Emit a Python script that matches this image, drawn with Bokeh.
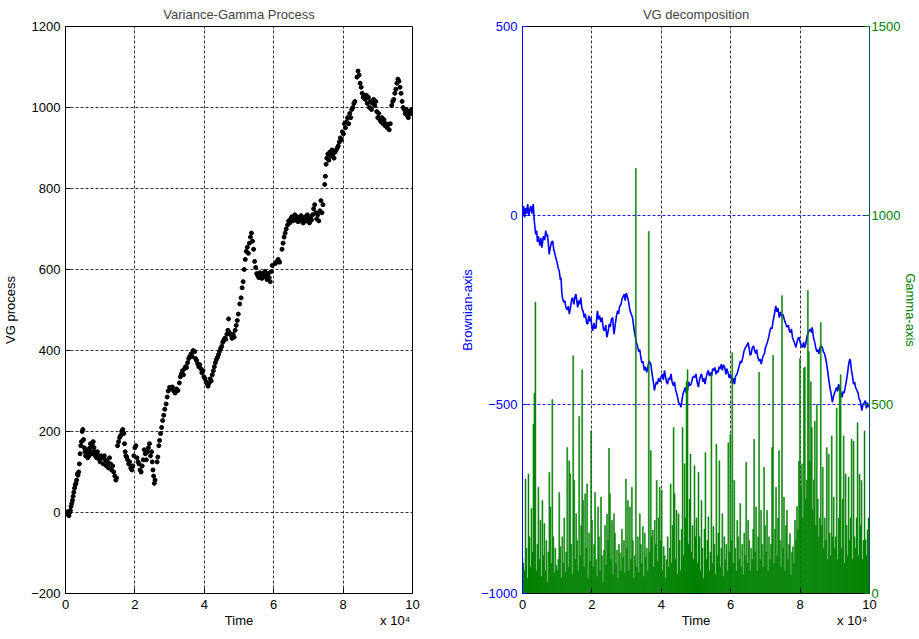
import numpy as np
from bokeh.plotting import figure
from bokeh.models import Range1d, LinearAxis, FixedTicker
from bokeh.layouts import row
from bokeh.embed import file_html
from bokeh.resources import INLINE

FONT = "Liberation Sans"

# ---------------- data ----------------
x_ticks = [0, 20000, 40000, 60000, 80000, 100000]
x_tick_labels = ["0", "2", "4", "6", "8", "10"]
vg_ticks = [-200, 0, 200, 400, 600, 800, 1000, 1200]
bm_ticks = [-1000, -500, 0, 500]
gamma_ticks = [0, 500, 1000, 1500]
x_title = "Time"
x_exponent = "x 10\u2074"

# Variance-Gamma process samples (time in units of 1e4)
vg_time = [
    0.00, 0.03, 0.06, 0.08, 0.10, 0.12, 0.14, 0.16, 0.18, 0.20, 0.22, 0.24, 0.26, 0.28, 0.30,
    0.32, 0.34, 0.36, 0.38, 0.40, 0.42, 0.44, 0.46, 0.48, 0.50, 0.52, 0.54, 0.56, 0.58, 0.60,
    0.62, 0.64, 0.66, 0.68, 0.70, 0.72, 0.74, 0.76, 0.78, 0.80, 0.82, 0.84, 0.86, 0.88, 0.90,
    0.92, 0.95, 0.98, 1.00, 1.03, 1.06, 1.09, 1.12, 1.15, 1.18, 1.21, 1.24, 1.27, 1.30, 1.33,
    1.36, 1.39, 1.42, 1.45, 1.47,
    1.50, 1.53, 1.56, 1.59, 1.62, 1.65, 1.68, 1.70, 1.72, 1.74, 1.76, 1.79, 1.82, 1.85, 1.88,
    1.91, 1.94, 1.97, 2.00, 2.03, 2.06, 2.09, 2.12, 2.15, 2.18, 2.21, 2.24, 2.27, 2.30, 2.33,
    2.36, 2.39, 2.42, 2.45, 2.48, 2.50, 2.52, 2.54, 2.56, 2.58,
    2.64, 2.66, 2.69, 2.71, 2.74, 2.77, 2.80, 2.83, 2.86, 2.90, 2.93, 2.96, 3.00, 3.04, 3.08,
    3.12, 3.16, 3.20, 3.24, 3.28, 3.31, 3.34, 3.37, 3.40, 3.43, 3.46, 3.49, 3.52, 3.55, 3.58,
    3.62, 3.65, 3.68, 3.72, 3.75, 3.78, 3.81, 3.84, 3.87, 3.90, 3.93, 3.96, 3.99, 4.02, 4.05,
    4.08, 4.11, 4.14, 4.17, 4.20, 4.23, 4.26, 4.29, 4.32, 4.35, 4.38, 4.41, 4.44, 4.47, 4.50,
    4.53, 4.56, 4.59, 4.62, 4.65, 4.68, 4.70, 4.71, 4.74, 4.77, 4.80, 4.83, 4.86, 4.89, 4.92,
    4.95, 4.98, 5.02, 5.06, 5.09, 5.12, 5.15, 5.18, 5.21, 5.24, 5.27, 5.30, 5.33, 5.36, 5.39,
    5.42, 5.45, 5.48, 5.51, 5.54, 5.57, 5.60, 5.63, 5.66, 5.69, 5.72, 5.75, 5.78, 5.81, 5.84,
    5.87, 5.90, 5.93, 5.96, 6.05, 6.09, 6.13, 6.17,
    6.24, 6.27, 6.30, 6.33, 6.36, 6.40, 6.43, 6.46, 6.49, 6.52, 6.55, 6.58, 6.61, 6.64, 6.67,
    6.70, 6.73, 6.76, 6.79, 6.82, 6.85, 6.88, 6.91, 6.94, 6.97, 7.00, 7.03, 7.06, 7.09, 7.12,
    7.15, 7.18, 7.21, 7.24, 7.27, 7.30, 7.33, 7.36, 7.39, 7.42,
    7.47, 7.49, 7.51, 7.53, 7.56, 7.59, 7.62, 7.65, 7.68, 7.71, 7.74, 7.77, 7.80, 7.83, 7.86,
    7.89, 7.92, 7.95, 7.98, 8.01, 8.04, 8.07, 8.10, 8.13, 8.16, 8.19, 8.22, 8.25, 8.28, 8.31,
    8.34, 8.40, 8.43, 8.46, 8.49, 8.52, 8.55, 8.58, 8.61, 8.64, 8.67, 8.70, 8.73, 8.76, 8.79,
    8.82, 8.85, 8.88, 8.91, 8.94, 8.97, 9.00, 9.03, 9.06, 9.09, 9.12, 9.15, 9.18, 9.21, 9.24,
    9.27, 9.30, 9.33, 9.36, 9.40, 9.43, 9.46, 9.49, 9.52, 9.55, 9.58, 9.61, 9.64, 9.67, 9.70,
    9.73, 9.76, 9.79, 9.82, 9.85, 9.88, 9.91, 9.94, 9.97, 10.0,
]
vg_value = [
    0, -3, 2, -5, -8, 0, 5, 15, 22, 30, 40, 50, 60, 68, 72,
    80, 95, 92, 100, 120, 145, 165, 175, 200, 205, 180, 160, 150, 140, 155,
    145, 135, 150, 140, 160, 170, 150, 145, 165, 175, 160, 150, 140, 148, 135,
    150, 140, 130, 125, 140, 135, 120, 140, 130, 115, 125, 110, 135, 120, 105,
    115, 100, 90, 80, 85,
    165, 175, 185, 190, 200, 205, 195, 170, 150, 140, 137, 130, 120, 125, 110,
    105, 115, 140, 160, 165, 135, 125, 120, 105, 100, 115, 130, 155, 145, 130,
    150, 160, 170, 140, 150, 125, 105, 90, 72, 80,
    125, 137, 165, 178, 195, 210, 227, 240, 255, 268, 285, 300, 309, 305, 310,
    300, 295, 305, 301, 320, 335, 342, 350, 340, 355, 360, 358, 370, 380, 385,
    392, 385, 400, 397, 380, 375, 367, 360, 365, 355, 345, 350, 335, 330, 322,
    318, 312, 320, 330, 325, 340, 350, 360, 370, 378, 383, 390, 398, 405, 410,
    420, 425, 430, 428, 440, 450, 478, 445, 442, 438, 430, 440, 433, 450, 462,
    474, 490, 515, 530, 555, 570, 600, 625, 645, 655, 640, 665, 680, 690, 670,
    650, 620, 605, 590, 585, 580, 592, 585, 578, 590, 582, 595, 585, 575, 590,
    580, 570, 595, 610, 615, 620, 625, 618,
    650, 665, 680, 690, 700, 710, 720, 715, 725, 730, 720, 728, 735, 722, 730,
    718, 728, 720, 733, 725, 715, 722, 730, 720, 735, 725, 715, 728, 722, 735,
    750, 760, 740, 725, 735, 720, 745, 770, 740, 760,
    810, 830, 860, 875, 885, 870, 890, 880, 895, 885, 875, 890, 895, 900, 905,
    915, 925, 920, 940, 935, 960, 950, 965, 975, 960, 985, 975, 995, 1000, 1010,
    1015, 1075, 1090, 1080, 1060, 1050, 1035, 1025, 1030, 1020, 1030, 1010, 1025, 1000, 1015,
    995, 1010, 1020, 1005, 1015, 990, 975, 985, 970, 965, 975, 960, 970, 955, 960,
    950, 958, 945, 960, 1005, 1015, 1020, 1035, 1045, 1060, 1070, 1065, 1050, 1035, 1015,
    1000, 995, 985, 995, 980, 975, 990, 985, 995, 985,
]

# Brownian component (time in units of 1e4)
bm_time = [
    0.00, 0.03, 0.06, 0.09, 0.12, 0.15, 0.18, 0.21, 0.24, 0.27, 0.31, 0.34, 0.38, 0.41, 0.43,
    0.46, 0.50, 0.53, 0.56, 0.60, 0.64, 0.67, 0.70, 0.72, 0.75, 0.77, 0.80, 0.84, 0.87, 0.90,
    0.93, 0.96, 1.00, 1.03, 1.06, 1.09, 1.11, 1.13, 1.15, 1.19, 1.22, 1.25, 1.29, 1.32, 1.35,
    1.38, 1.41, 1.44, 1.48, 1.51, 1.54, 1.57, 1.59, 1.62, 1.65, 1.68, 1.71, 1.75, 1.78, 1.81,
    1.85, 1.88, 1.91, 1.94, 1.97, 2.00, 2.02, 2.06, 2.09, 2.12, 2.14, 2.16, 2.19, 2.22, 2.26,
    2.29, 2.33, 2.36, 2.40, 2.43, 2.45, 2.48, 2.50, 2.53, 2.56, 2.60, 2.62, 2.64, 2.67, 2.71,
    2.74, 2.77, 2.80, 2.84, 2.87, 2.90, 2.93, 2.96, 2.99, 3.03, 3.06, 3.08, 3.11, 3.14, 3.17,
    3.20, 3.22, 3.25, 3.28, 3.32, 3.35, 3.38, 3.41, 3.44, 3.47, 3.51, 3.54, 3.58, 3.61, 3.65,
    3.70, 3.72, 3.75, 3.78, 3.80, 3.83, 3.86, 3.89, 3.92, 3.96, 3.99, 4.03, 4.06, 4.09, 4.12,
    4.15, 4.18, 4.21, 4.24, 4.28, 4.31, 4.35, 4.38, 4.41, 4.44, 4.47, 4.50, 4.54, 4.57, 4.60,
    4.63, 4.66, 4.69, 4.72, 4.76, 4.79, 4.82, 4.86, 4.90, 4.93, 4.97, 5.00, 5.03, 5.07, 5.10,
    5.13, 5.16, 5.20, 5.23, 5.26, 5.30, 5.33, 5.35, 5.39, 5.42, 5.45, 5.48, 5.51, 5.54, 5.58,
    5.61, 5.64, 5.67, 5.70, 5.73, 5.76, 5.79, 5.83, 5.86, 5.89, 5.92, 5.96, 5.99, 6.02, 6.05,
    6.08, 6.11, 6.14, 6.18, 6.21, 6.24, 6.28, 6.31, 6.35, 6.38, 6.42, 6.46, 6.50, 6.53, 6.56,
    6.59, 6.62, 6.66, 6.69, 6.72, 6.75, 6.78, 6.82, 6.85, 6.88, 6.91, 6.94, 6.97, 7.00, 7.04,
    7.07, 7.10, 7.13, 7.16, 7.19, 7.22, 7.26, 7.28, 7.30, 7.33, 7.36, 7.40, 7.43, 7.46, 7.50,
    7.53, 7.56, 7.59, 7.62, 7.66, 7.69, 7.72, 7.75, 7.78, 7.81, 7.85, 7.88, 7.91, 7.94, 7.97,
    8.00, 8.04, 8.07, 8.10, 8.13, 8.16, 8.20, 8.23, 8.26, 8.30, 8.33, 8.35, 8.38, 8.42, 8.45,
    8.48, 8.51, 8.54, 8.57, 8.61, 8.64, 8.67, 8.70, 8.73, 8.76, 8.80, 8.83, 8.86, 8.90, 8.93,
    8.96, 8.99, 9.02, 9.05, 9.08, 9.11, 9.14, 9.18, 9.21, 9.24, 9.27, 9.30, 9.33, 9.37, 9.40,
    9.43, 9.45, 9.48, 9.51, 9.54, 9.57, 9.60, 9.64, 9.67, 9.70, 9.73, 9.76, 9.78, 9.81, 9.85,
    9.88, 9.91, 9.94, 9.97, 10.0,
]
bm_value = [
    0, 25, -5, 20, 5, 30, 0, 15, 25, 5, 30, -15, -50, -40, -70,
    -55, -80, -60, -85, -55, -65, -40, -55, -50, -80, -103, -85, -70, -68, -90,
    -100, -112, -125, -140, -147, -170, -164, -200, -217, -230, -225, -243, -250, -240, -261,
    -245, -225, -217, -235, -215, -208, -230, -243, -225, -235, -217, -245, -255, -270, -260,
    -285, -287, -265, -280, -270, -295, -305, -285, -300, -296, -270, -252, -275, -265, -282,
    -270, -300, -305, -290, -322, -315, -300, -287, -295, -275, -270, -300, -314, -290, -265,
    -252, -260, -240, -235, -220, -215, -208, -225, -205, -217, -230, -243, -255, -262, -270,
    -290, -305, -320, -335, -349, -360, -355, -375, -390, -385, -410, -400, -415, -402, -385,
    -393, -410, -428, -445, -463, -450, -440, -446, -430, -440, -428, -420, -435, -410, -425,
    -440, -446, -430, -435, -419, -440, -450, -440, -460, -470, -481, -495, -500, -507, -485,
    -470, -463, -455, -470, -460, -440, -450, -446, -430, -425, -428, -419, -440, -454, -435,
    -425, -419, -440, -430, -446, -425, -415, -410, -425, -415, -424, -405, -410, -402, -420,
    -410, -415, -400, -405, -393, -410, -395, -402, -420, -405, -415, -430, -420, -428, -445,
    -430, -446, -425, -420, -410, -400, -385, -390, -375, -360, -350, -345, -336, -350, -370,
    -366, -350, -345, -358, -365, -355, -375, -385, -380, -393, -380, -370, -366, -350, -340,
    -331, -320, -305, -296, -300, -280, -261, -250, -239, -255, -245, -270, -255, -265, -261,
    -270, -280, -287, -295, -290, -305, -310, -300, -322, -330, -340, -349, -335, -325, -322,
    -335, -345, -349, -335, -350, -340, -320, -310, -305, -300, -310, -296, -320, -335, -349,
    -360, -355, -366, -350, -345, -349, -360, -365, -375, -390, -415, -437, -455, -475, -494,
    -480, -470, -463, -455, -465, -446, -460, -470, -481, -465, -470, -454, -440, -415, -393,
    -380, -384, -410, -425, -446, -440, -455, -463, -470, -485, -490, -505, -516, -500, -495,
    -490, -510, -495, -507, -500,
]

# Gamma component increments, one row per 1e4 of time (35 samples each)
gamma_value = [
    95, 80, 60, 303, 120, 40, 316, 150, 70, 225, 110, 448, 530, 771, 60, 130, 281, 90, 194, 45,
    246, 100, 185, 60, 140, 30, 110, 321, 229, 80, 513, 150, 55, 120, 75,
    60, 90, 267, 124, 40, 150, 80, 200, 55, 110, 386, 70, 351, 316, 130, 50, 629, 299, 90, 211,
    140, 60, 469, 100, 180, 592, 246, 70, 264, 120, 290, 40, 160, 85, 430,
    194, 70, 130, 268, 90, 45, 229, 150, 60, 255, 100, 30, 115, 180, 75, 210, 140, 384, 264, 90,
    194, 50, 211, 160, 80, 115, 40, 130, 107, 60, 170, 95, 140, 55, 303,
    120, 246, 60, 229, 90, 281, 140, 40, 100, 1125, 70, 150, 55, 211, 130, 80, 177, 45, 160, 95,
    120, 60, 958, 110, 378, 150, 168, 70, 194, 130, 299, 85, 200, 281, 140,
    273, 60, 124, 100, 40, 89, 150, 70, 120, 290, 80, 180, 439, 264, 90, 220, 50, 211, 140, 60,
    170, 439, 100, 343, 200, 561, 592, 130, 250, 369, 110, 180, 90, 338, 150,
    200, 80, 321, 150, 60, 246, 120, 40, 170, 373, 90, 140, 203, 60, 110, 579, 80, 177, 130, 50,
    395, 100, 160, 351, 70, 120, 211, 45, 150, 90, 130, 60, 399, 110, 421,
    140, 637, 80, 299, 120, 60, 194, 150, 90, 238, 70, 130, 50, 160, 100, 347, 80, 194, 140, 60,
    120, 90, 170, 408, 110, 229, 60, 150, 585, 90, 220, 130, 70, 334, 180,
    110, 220, 60, 150, 90, 130, 386, 630, 80, 170, 281, 100, 200, 378, 140, 70, 788, 120, 255, 60,
    180, 220, 90, 130, 159, 50, 110, 124, 80, 194, 140, 230, 170, 350, 621,
    280, 343, 200, 596, 599, 250, 300, 802, 640, 350, 560, 439, 220, 300, 456, 180, 500, 250, 150, 200,
    717, 180, 334, 120, 200, 140, 386, 90, 369, 160, 100, 417, 150, 255, 120,
    150, 491, 90, 200, 546, 579, 120, 250, 417, 80, 316, 180, 100, 308, 140, 200, 408, 90, 403, 150,
    120, 200, 452, 100, 316, 180, 299, 90, 140, 430, 142, 100, 168, 200, 150,
]

SCALE = 1e4
vg_t = np.array(vg_time) * SCALE
bm_t = np.array(bm_time) * SCALE
gamma_t = np.linspace(0, 10 * SCALE, len(gamma_value))  # regular sampling grid
gamma_v = np.array(gamma_value, dtype=float)
gamma_w = 10 * SCALE / (len(gamma_value) - 1)

BLUE = "#0000ff"
GREEN = "#008000"
GRID_DASH = "3 2"
FS = "13px"


def style_axis(ax, color="black"):
    ax.axis_label_text_font = FONT
    ax.axis_label_text_font_size = FS
    ax.axis_label_text_font_style = "normal"
    ax.axis_label_text_color = color
    ax.major_label_text_font = FONT
    ax.major_label_text_font_size = FS
    ax.major_label_text_color = color
    ax.axis_line_color = color
    ax.major_tick_line_color = color
    ax.major_tick_in = 5
    ax.major_tick_out = 0
    ax.minor_tick_line_color = None


def base_fig(title, y_range, left, right):
    p = figure(
        frame_width=347, frame_height=567,
        x_range=Range1d(0, 10 * SCALE), y_range=y_range,
        output_backend="svg", toolbar_location=None,
        min_border_left=left, min_border_right=right,
        min_border_top=0, min_border_bottom=30,
        background_fill_color="white", border_fill_color="white",
    )
    p.title.text = title
    p.title.text_font = FONT
    p.title.text_font_size = FS
    p.title.text_font_style = "normal"
    p.title.align = "center"
    p.title.standoff = 9
    p.outline_line_color = "black"
    p.outline_line_alpha = 1.0
    xa = p.xaxis[0]
    xa.ticker = FixedTicker(ticks=x_ticks)
    xa.major_label_overrides = {t: l for t, l in zip(x_ticks, x_tick_labels)}
    style_axis(xa)
    xa.major_label_standoff = 6
    # second row below the tick labels: axis title and the x 10^4 multiplier
    title_pos = [50000, 95000]
    xb = LinearAxis(ticker=FixedTicker(ticks=title_pos),
                    major_label_overrides={title_pos[0]: x_title, title_pos[1]: x_exponent})
    style_axis(xb)
    xb.axis_line_color = None
    xb.major_tick_line_color = None
    xb.major_label_standoff = 1
    p.add_layout(xb, "below")
    p.xgrid.ticker = FixedTicker(ticks=x_ticks)
    p.xgrid.grid_line_color = "black"
    p.xgrid.grid_line_dash = GRID_DASH
    p.xgrid.grid_line_alpha = 0.8
    return p


# ---------------- left panel ----------------
p1 = base_fig("Variance-Gamma Process", Range1d(-200, 1200), 64, 40)
p1.yaxis.ticker = FixedTicker(ticks=vg_ticks)
p1.yaxis.axis_label = "VG process"
style_axis(p1.yaxis[0])
p1.yaxis.major_label_standoff = 5
p1.yaxis.axis_label_standoff = 10
p1.ygrid.ticker = FixedTicker(ticks=vg_ticks)
p1.ygrid.grid_line_color = "black"
p1.ygrid.grid_line_dash = GRID_DASH
p1.ygrid.grid_line_alpha = 0.8
p1.scatter(vg_t, vg_value, size=4, color="black", marker="circle")

# ---------------- right panel ----------------
p2 = base_fig("VG decomposition", Range1d(-1000, 500), 70, 42)
p2.extra_y_ranges = {"gamma": Range1d(0, 1500)}
p2.yaxis.ticker = FixedTicker(ticks=bm_ticks)
p2.yaxis.axis_label = "Brownian-axis"
style_axis(p2.yaxis[0], BLUE)
p2.yaxis.major_label_standoff = 5
p2.yaxis.axis_label_standoff = 3
p2.ygrid.ticker = FixedTicker(ticks=bm_ticks)
p2.ygrid.grid_line_color = BLUE
p2.ygrid.grid_line_dash = GRID_DASH
p2.ygrid.grid_line_alpha = 0.9

gax = LinearAxis(y_range_name="gamma", ticker=FixedTicker(ticks=gamma_ticks), axis_label="Gamma-axis")
style_axis(gax, GREEN)
gax.axis_line_color = "#0b4a6a"
gax.major_label_standoff = 2
gax.axis_label_standoff = 0
p2.add_layout(gax, "right")

p2.line(bm_t, bm_value, line_color=BLUE, line_width=1.6)
p2.vbar(x=gamma_t, width=gamma_w, bottom=0, top=gamma_v, y_range_name="gamma",
        fill_color=GREEN, line_color=GREEN, line_width=0.5)

layout = row(p1, p2)
open("out.html", "w").write(file_html(layout, INLINE))
